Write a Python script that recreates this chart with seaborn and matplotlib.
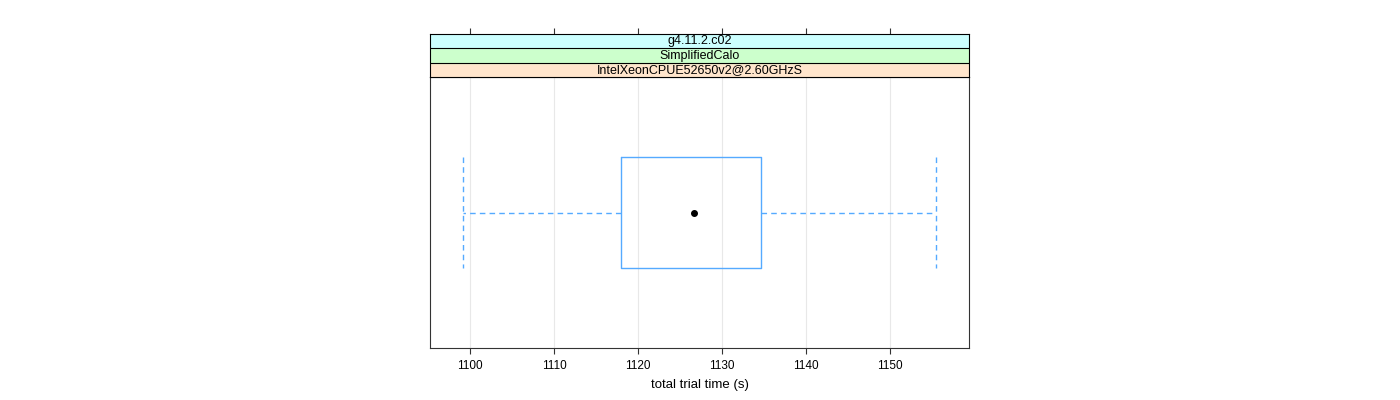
import numpy as np
import pandas as pd
import matplotlib
matplotlib.use('Agg')
import matplotlib.pyplot as plt
import seaborn as sns

# Values (min, Q1, median, Q3, max)
trial_time = [1099.2, 1118.0, 1126.7, 1134.6, 1155.5]
strip_labels = ['IntelXeonCPUE52650v2@2.60GHzS', 'SimplifiedCalo', 'g4.11.2.c02']
strip_colors = ['#ffe5cc', '#ccffcc', '#ccffff']
x_ticks = [1100, 1110, 1120, 1130, 1140, 1150]
x_label = 'total trial time (s)'

box_color = '#55aaff'
frame_color = '#333333'

sns.set_theme(style='white')
plt.rcParams['font.family'] = ['Liberation Sans', 'DejaVu Sans']
plt.rcParams['text.color'] = 'black'
plt.rcParams['xtick.color'] = 'black'
plt.rcParams['axes.labelcolor'] = 'black'

df = pd.DataFrame({'time': trial_time})

fig = plt.figure(figsize=(14, 4), dpi=100)
ax = fig.add_axes([430 / 1400, 1 - 348 / 400, 539 / 1400, 271 / 400])
strip_ax = fig.add_axes([430 / 1400, 1 - 77 / 400, 539 / 1400, 43 / 400])

# Grid lines
for t in x_ticks:
    ax.axvline(t, color='#e8e8e8', lw=0.8, zorder=0)

sns.boxplot(data=df, x='time', ax=ax, fill=False, color=box_color, width=0.8,
            whis=1.5, linewidth=1.0, showfliers=False,
            medianprops=dict(visible=False),
            whiskerprops=dict(linestyle=(0, (4, 3)), color=box_color),
            capprops=dict(linestyle=(0, (4, 3)), color=box_color),
            boxprops=dict(color=box_color))

# lattice-style caps span the box height
cont = ax.containers[0]
box_y = cont.boxes[0].get_ydata() if hasattr(cont.boxes[0], 'get_ydata') else cont.boxes[0].get_path().vertices[:, 1]
ylo, yhi = np.min(box_y), np.max(box_y)
for cap in cont.caps:
    cx = cap.get_xdata()[0]
    cap.set_xdata([cx, cx])
    cap.set_ydata([ylo, yhi])

# median as a dot
ax.plot(np.median(trial_time), (ylo + yhi) / 2, 'o', color='black', ms=4, zorder=5)

xmin, xmax = 1095.24, 1159.4
ax.set_xlim(xmin, xmax)
half = (yhi - ylo) / 2 / 0.413
ax.set_ylim((ylo + yhi) / 2 + half, (ylo + yhi) / 2 - half)
ax.set_yticks([])
ax.set_ylabel('')
ax.set_xticks(x_ticks)
ax.set_xticklabels([str(t) for t in x_ticks], fontsize=8.5)
ax.set_xlabel(x_label, fontsize=9.5, labelpad=5)
ax.tick_params(axis='x', direction='out', length=4.5, width=0.8, color=frame_color,
               pad=4, bottom=True)
for s in ax.spines.values():
    s.set_color(frame_color)
    s.set_linewidth(0.8)
    s.set_visible(True)

# strips
strip_ax.set_xlim(xmin, xmax)
strip_ax.set_ylim(0, 3)
for i, (lab, col) in enumerate(zip(strip_labels, strip_colors)):
    strip_ax.axhspan(i, i + 1, color=col, zorder=0)
    strip_ax.text((xmin + xmax) / 2, i + 0.5, lab, ha='center', va='center', fontsize=9)
    if i > 0:
        strip_ax.axhline(i, color='black', lw=0.8)
strip_ax.set_yticks([])
strip_ax.set_xticks(x_ticks)
strip_ax.tick_params(axis='x', direction='out', length=4.5, width=0.8, color=frame_color,
                     top=True, bottom=False, labeltop=False, labelbottom=False)
for s in strip_ax.spines.values():
    s.set_color('black')
    s.set_linewidth(0.8)
    s.set_visible(True)

fig.savefig('out.png', dpi=100, facecolor='white')
